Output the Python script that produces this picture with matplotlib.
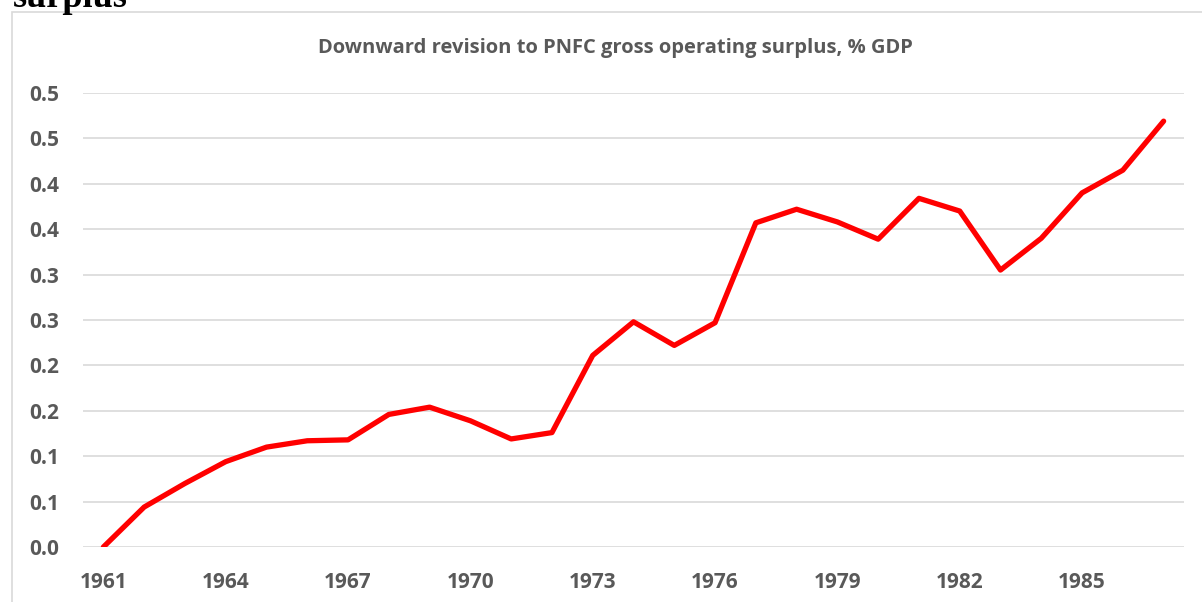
import matplotlib.pyplot as plt
from matplotlib.patches import Rectangle

# data
years = list(range(1961, 1988))
revision = [0.000, 0.044, 0.070, 0.094, 0.110, 0.117, 0.118, 0.146, 0.154, 0.139,
            0.119, 0.126, 0.211, 0.248, 0.222, 0.247, 0.357, 0.372, 0.358, 0.339,
            0.384, 0.370, 0.305, 0.340, 0.390, 0.415, 0.469]
y_ticks = [0.0, 0.05, 0.10, 0.15, 0.20, 0.25, 0.30, 0.35, 0.40, 0.45, 0.50]
y_labels = ['0.0', '0.1', '0.1', '0.2', '0.2', '0.3', '0.3', '0.4', '0.4', '0.5', '0.5']
x_ticks = [1961, 1964, 1967, 1970, 1973, 1976, 1979, 1982, 1985]

W, H = 1202, 602
fig = plt.figure(figsize=(W / 100, H / 100), dpi=100)
fig.patch.set_facecolor('white')

# chart frame
fig.patches.append(Rectangle((12 / W, -0.1), 1.1, (H - 12) / H + 0.1,
                             transform=fig.transFigure, fill=False,
                             edgecolor='#d9d9d9', linewidth=1.2))

# heading of the surrounding document, cut off at the top as in the source
fig.text(13 / W, 1 - 7 / H, 'surplus', fontfamily='Liberation Serif',
         fontweight='bold', fontsize=26, ha='left', va='baseline', color='black')

ax = fig.add_axes([83 / W, 55 / H, (1184 - 83) / W, (547 - 93) / H])
ax.plot(years, revision, color='#ff0000', linewidth=3.8,
        solid_capstyle='round', solid_joinstyle='round', zorder=3)

ax.set_xlim(1960.5, 1987.5)
ax.set_ylim(0, 0.5)
ax.set_yticks(y_ticks)
ax.set_yticklabels(y_labels)
ax.set_xticks(x_ticks)
ax.grid(axis='y', color='#d9d9d9', linewidth=1.2)
ax.set_axisbelow(True)
for s in ax.spines.values():
    s.set_visible(False)
ax.tick_params(length=0, labelcolor='#595959', labelsize=15)
ax.tick_params(axis='y', pad=17)
ax.tick_params(axis='x', pad=18)
for lab in ax.get_xticklabels() + ax.get_yticklabels():
    lab.set_fontfamily('Open Sans')
    lab.set_fontweight('bold')

fig.text(615 / W, 1 - 48 / H, 'Downward revision to PNFC gross operating surplus, % GDP',
         fontfamily='Open Sans', fontweight='bold', fontsize=14.5, color='#595959',
         ha='center', va='center')

fig.savefig('out.png', dpi=100)
